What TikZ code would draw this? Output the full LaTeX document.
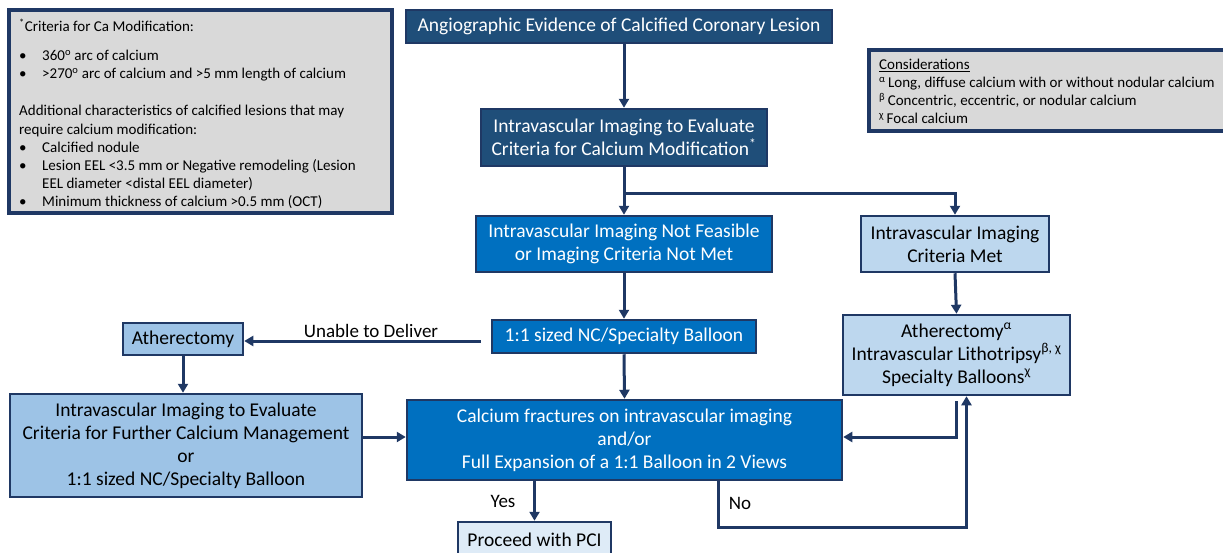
\documentclass[tikz,border=0pt]{standalone}
\usepackage{fontspec}
\setmainfont{Carlito}
\usetikzlibrary{arrows.meta}
\definecolor{navy}{HTML}{1F3864}
\definecolor{dkfill}{HTML}{1F4E79}
\definecolor{mdfill}{HTML}{0070C0}
\definecolor{ltfill}{HTML}{BDD7EE}
\definecolor{lmfill}{HTML}{9DC3E6}
\definecolor{pcfill}{HTML}{DEEBF7}
\definecolor{grayfill}{HTML}{D9D9D9}
\newcommand\bul{\makebox[23pt][l]{•}}
\tikzset{
  box/.style={draw=navy, line width=2.5pt, inner sep=0pt, align=center,
    font=\fontsize{19.5}{23}\selectfont},
  dkbox/.style={box, fill=dkfill, text=white},
  mdbox/.style={box, fill=mdfill, text=white},
  ltbox/.style={box, fill=ltfill, text=black},
  lmbox/.style={box, fill=lmfill, text=black},
  pcbox/.style={box, fill=pcfill, text=black},
  notebox/.style={draw=navy, line width=3.5pt, fill=grayfill},
  arr/.style={draw=navy, line width=3pt, -{Triangle[length=9pt,width=10pt]}},
  lbl/.style={font=\fontsize{19}{22}\selectfont, text=black, inner sep=0pt},
}
\begin{document}
\begin{tikzpicture}[x=1pt,y=-1pt]
\useasboundingbox (0,0) rectangle (1223,552);
\clip (0,0) rectangle (1223,552);
% note boxes
\node[notebox, minimum width=383pt, minimum height=203pt, inner sep=0pt] (crit) at (200.5,111.5) {};
\node[anchor=north west, inner sep=0pt, align=left, font=\fontsize{15}{18.2}\selectfont, text=black] (crittext) at (19,18.5)
{\textsuperscript{*}Criteria for Ca Modification:\\[11pt]
\bul 360\textsuperscript{o} arc of calcium\\
\bul >270\textsuperscript{o} arc of calcium and >5 mm length of calcium\\[19pt]
Additional characteristics of calcified lesions that may\\
require calcium modification:\\
\bul Calcified nodule\\
\bul Lesion EEL <3.5 mm or Negative remodeling (Lesion\\
\hspace*{23pt}EEL diameter <distal EEL diameter)\\
\bul Minimum thickness of calcium >0.5 mm (OCT)};
\node[notebox, minimum width=370pt, minimum height=81pt, inner sep=0pt] (cons) at (1054,90.5) {};
\node[anchor=north west, inner sep=0pt, align=left, font=\fontsize{15}{18}\selectfont, text=black] (constext) at (879,59)
{\underline{Considerations}\\
\textsuperscript{α}\,Long, diffuse calcium with or without nodular calcium\\
\textsuperscript{β}\,Concentric, eccentric, or nodular calcium\\
\textsuperscript{χ}\,Focal calcium};
% flow boxes
\node[dkbox, minimum width=426pt, minimum height=33pt] (top) at (619,26.5) {Angiographic Evidence of Calcified Coronary Lesion};
\node[dkbox, minimum width=286pt, minimum height=57pt] (eval) at (624,137.5) {Intravascular Imaging to Evaluate\\Criteria for Calcium Modification\textsuperscript{*}};
\node[mdbox, minimum width=296pt, minimum height=56pt] (notf) at (624,244) {Intravascular Imaging Not Feasible\\or Imaging Criteria Not Met};
\node[ltbox, minimum width=188pt, minimum height=56pt] (met) at (955,244) {Intravascular Imaging\\Criteria Met};
\node[ltbox, minimum width=227pt, minimum height=80pt] (mods) at (956.5,355) {Atherectomy\textsuperscript{α}\\Intravascular Lithotripsy\textsuperscript{β, χ}\\Specialty Balloons\textsuperscript{χ}};
\node[mdbox, minimum width=264pt, minimum height=33pt] (ball) at (624,336.5) {1:1 sized NC/Specialty Balloon};
\node[lmbox, minimum width=120pt, minimum height=32pt] (ath) at (183,339) {Atherectomy};
\node[lmbox, minimum width=352pt, minimum height=103pt] (further) at (186,445.5) {Intravascular Imaging to Evaluate\\Criteria for Further Calcium Management\\or\\1:1 sized NC/Specialty Balloon};
\node[mdbox, minimum width=435pt, minimum height=80pt] (frac) at (624.5,440) {Calcium fractures on intravascular imaging\\and/or\\Full Expansion of a 1:1 Balloon in 2 Views};
\node[pcbox, minimum width=153pt, minimum height=36pt] (pci) at (534.5,540) {Proceed with PCI};
% connectors
\coordinate (br) at (624,193);
\coordinate (nocorner) at (718,527);
\draw[arr] (top.south -| eval.north) -- (eval.north);
\draw[arr] (eval.south) -- (notf.north);
\draw[arr] (br) -| (met.north);
\draw[arr] (met.south) -- (mods.north);
\draw[arr] (notf.south) -- (ball.north);
\draw[arr] (ball.south) -- (frac.north);
\draw[arr, shorten <=10pt] (ball.west |- 0,341) -- (ath.east |- 0,341);
\node[lbl] (unable) at (371,331) {Unable to Deliver};
\draw[arr] (ath.south) -- (further.north -| ath.south);
\draw[arr] (further.east |- 0,437) -- (frac.west |- 0,437);
\draw[arr, shorten <=5pt] (mods.south) |- (frac.east |- 0,437);
\draw[arr] (frac.south -| nocorner) -- (nocorner) -| ([xshift=10pt]mods.south);
\draw[arr] (frac.south -| pci.north) -- (pci.north);
\node[lbl] (yes) at (503,501) {Yes};
\node[lbl] (no) at (740,503) {No};
\end{tikzpicture}
\end{document}
